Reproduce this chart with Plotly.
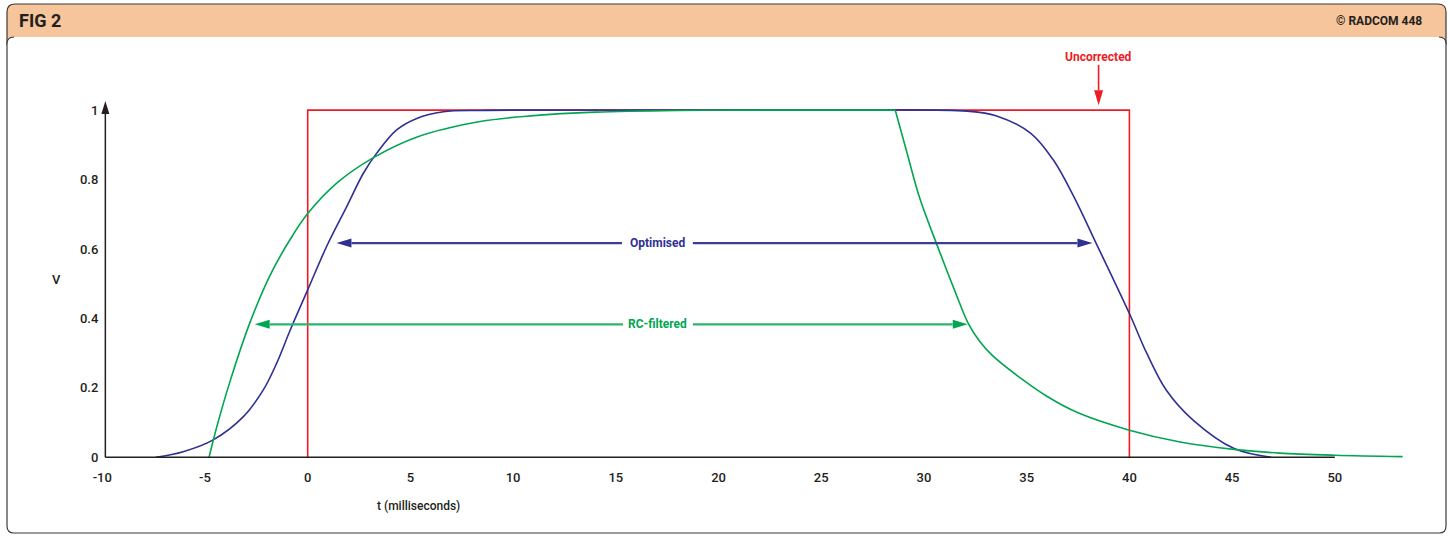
import plotly.graph_objects as go

# ---------------------------------------------------------------- data
# Uncorrected (ideal rectangular) pulse
uncorr_t = [0, 0, 40, 40]
uncorr_v = [0, 1, 1, 0]

# Optimised pulse shaping
opt_t = [-7.4, -6.06, -4.6, -3.13, -2.16, -1.51, -0.86, 0.0, 0.92, 1.9, 2.71,
         3.36, 4.33, 5.31, 6.6, 8.4, 11.0, 16.0, 21.0, 26.0, 32.1, 33.5,
         35.2, 36.3, 37.3, 38.4, 40.0, 40.85, 41.8, 43.1, 45.1, 46.9]
opt_v = [0.0, 0.016, 0.05, 0.117, 0.194, 0.271, 0.365, 0.482, 0.607, 0.722,
         0.818, 0.876, 0.943, 0.976, 0.995, 0.999, 1.0, 1.0, 1.0, 1.0, 0.997,
         0.984, 0.933, 0.856, 0.75, 0.614, 0.414, 0.299, 0.193, 0.107, 0.025,
         0.0]

# RC-filtered pulse: rising edge and decaying edge
rc_rise_t = [-4.8, -4.45, -3.8, -2.83, -1.85, -0.88, 0.0, 1.4, 3.2, 5.3, 8.4,
             11.0, 14.0, 18.0, 22.0, 28.6]
rc_rise_v = [0.0, 0.082, 0.215, 0.385, 0.522, 0.625, 0.702, 0.789, 0.863,
             0.922, 0.967, 0.984, 0.994, 0.999, 1.0, 1.0]
rc_fall_t = [28.6, 29.16, 29.8, 30.62, 31.43, 32.16, 32.7, 33.3, 34.84, 36.0,
             37.5, 40.0, 42.47, 45.2, 47.3, 50.0, 53.3]
rc_fall_v = [1.0, 0.88, 0.745, 0.614, 0.49, 0.385, 0.335, 0.295, 0.222, 0.175,
             0.128, 0.078, 0.044, 0.022, 0.012, 0.006, 0.002]

# axis ticks
x_ticks = [-10, -5, 0, 5, 10, 15, 20, 25, 30, 35, 40, 45, 50]
x_tick_text = ["-10", "-5", "0", "5", "10", "15", "20", "25", "30", "35",
               "40", "45", "50"]
y_ticks = [0, 0.2, 0.4, 0.6, 0.8, 1]
y_tick_text = ["0", "0.2", "0.4", "0.6", "0.8", "1"]

# labelled width arrows: (label, level, left tip, gap start, gap end, right tip)
opt_arrow = ("Optimised", 0.617, 1.4, 15.3, 18.75, 38.2)
rc_arrow = ("RC-filtered", 0.383, -2.58, 15.35, 18.75, 32.13)
uncorr_arrow = ("Uncorrected", 38.5, 1.014, 1.13)   # label, t, tip, tail

# ---------------------------------------------------------------- layout
W, H = 1450, 536
ML, MR, MT, MB = 92, 33, 58, 44
X_RANGE = [-10.5, 54]
Y_RANGE = [-0.1, 1.15]
Y_AXIS_AT = -9.85
PW = W - ML - MR
PH = H - MT - MB
XS = PW / (X_RANGE[1] - X_RANGE[0])   # px per ms
YS = PH / (Y_RANGE[1] - Y_RANGE[0])   # px per volt

FONT = "Roboto, Liberation Sans, Arial, sans-serif"
INK = "#231F20"
RED = "#ED1C24"
BLUE = "#2E3192"
BLUE_ARROW = "#3B3E99"
GREEN = "#00A651"
GREEN_ARROW = "#2DB56E"
PEACH = "#F6C59B"
FRAME = "#3A3A3A"
SMOOTH = 1.0


def pp(px, py):
    """pixel position -> paper coordinates string"""
    return f"{(px - ML) / PW:.5f},{(H - MB - py) / PH:.5f}"


def ppx(px):
    return (px - ML) / PW


def ppy(py):
    return (H - MB - py) / PH


shapes = []

# header band with rounded top corners
L, R, T, B = 7, 1446, 4, 45
r = 8
shapes.append(dict(
    type="path", xref="paper", yref="paper", layer="below",
    path=(f"M{pp(L, B)} L{pp(L, T + r)} Q{pp(L, T)} {pp(L + r, T)} "
          f"L{pp(R - r, T)} Q{pp(R, T)} {pp(R, T + r)} L{pp(R, B)} Z"),
    fillcolor=PEACH, line=dict(width=0)))
shapes.append(dict(
    type="path", xref="paper", yref="paper", layer="below",
    path=(f"M{pp(L, B)} L{pp(L, T + r)} Q{pp(L, T)} {pp(L + r, T)} "
          f"L{pp(R - r, T)} Q{pp(R, T)} {pp(R, T + r)} L{pp(R, B)}"),
    fillcolor="rgba(0,0,0,0)", line=dict(color=FRAME, width=1.2)))

# white panel
PT, PB = 37, 533
r = 7
panel = (f"M{pp(L + r, PT)} L{pp(R - r, PT)} Q{pp(R, PT)} {pp(R, PT + r)} "
         f"L{pp(R, PB - r)} Q{pp(R, PB)} {pp(R - r, PB)} L{pp(L + r, PB)} "
         f"Q{pp(L, PB)} {pp(L, PB - r)} L{pp(L, PT + r)} Q{pp(L, PT)} {pp(L + r, PT)}")
shapes.append(dict(type="path", xref="paper", yref="paper", layer="below",
                   path=panel + " Z", fillcolor="white", line=dict(width=0)))
shapes.append(dict(
    type="path", xref="paper", yref="paper", layer="below",
    path=(f"M{pp(R - r, PT)} Q{pp(R, PT)} {pp(R, PT + r)} "
          f"L{pp(R, PB - r)} Q{pp(R, PB)} {pp(R - r, PB)} L{pp(L + r, PB)} "
          f"Q{pp(L, PB)} {pp(L, PB - r)} L{pp(L, PT + r)} Q{pp(L, PT)} {pp(L + r, PT)}"),
    fillcolor="rgba(0,0,0,0)", line=dict(color=FRAME, width=1.2)))


def head(tip_x, tip_y, dx, dy, length, half, color):
    """filled triangular arrowhead in data space; (dx, dy) is a pixel direction"""
    bx = tip_x - dx * length / XS
    by = tip_y - dy * length / YS
    px_, py_ = -dy, dx
    p1 = (bx + px_ * half / XS, by + py_ * half / YS)
    p2 = (bx - px_ * half / XS, by - py_ * half / YS)
    shapes.append(dict(
        type="path", xref="x", yref="y", layer="above",
        path=f"M{tip_x},{tip_y} L{p1[0]},{p1[1]} L{p2[0]},{p2[1]} Z",
        fillcolor=color, line=dict(width=0)))
    return bx, by


def hline(x0, x1, y, color, width):
    shapes.append(dict(type="line", xref="x", yref="y", layer="above",
                       x0=x0, x1=x1, y0=y, y1=y,
                       line=dict(color=color, width=width)))


# axes drawn as lines, y axis with an arrow tip
shapes.append(dict(type="line", xref="x", yref="y", layer="above",
                   x0=Y_AXIS_AT, x1=50, y0=0, y1=0,
                   line=dict(color=INK, width=1.5)))
bx, by = head(Y_AXIS_AT, 1.026, 0, 1, 13, 4, INK)
shapes.append(dict(type="line", xref="x", yref="y", layer="above",
                   x0=Y_AXIS_AT, x1=Y_AXIS_AT, y0=0, y1=by + 0.005,
                   line=dict(color=INK, width=1.5)))

annotations = []


def width_arrow(spec, line_color, head_color, text_color):
    label, lvl, left, g0, g1, right = spec
    bl, _ = head(left, lvl, -1, 0, 15, 4.5, head_color)
    br, _ = head(right, lvl, 1, 0, 15, 4.5, head_color)
    hline(bl, g0, lvl, line_color, 2.2)
    hline(g1, br, lvl, line_color, 2.2)
    annotations.append(dict(x=(g0 + g1) / 2, y=lvl, xref="x", yref="y",
                            xanchor="center", yanchor="middle",
                            text=f"<b>{label}</b>", showarrow=False,
                            font=dict(family=FONT, size=12, color=text_color)))


width_arrow(opt_arrow, BLUE_ARROW, BLUE, BLUE)
width_arrow(rc_arrow, GREEN_ARROW, GREEN, GREEN)

# uncorrected pointer
label, ut, utip, utail = uncorr_arrow
_, ub = head(ut, utip, 0, -1, 15, 4.5, RED)
shapes.append(dict(type="line", xref="x", yref="y", layer="above",
                   x0=ut, x1=ut, y0=ub, y1=utail,
                   line=dict(color=RED, width=1.6)))
annotations.append(dict(x=ut, y=utail, xref="x", yref="y",
                        xanchor="center", yanchor="bottom",
                        text=f"<b>{label}</b>", showarrow=False, yshift=-1,
                        font=dict(family=FONT, size=12, color=RED)))

# header texts and axis titles
annotations += [
    dict(x=ppx(17), y=ppy(20.5), xref="paper", yref="paper",
         xanchor="left", yanchor="middle",
         text="<b>FIG 2</b>", showarrow=False,
         font=dict(family=FONT, size=18, color=INK)),
    dict(x=ppx(1424), y=ppy(21), xref="paper", yref="paper",
         xanchor="right", yanchor="middle",
         text="<b>© RADCOM 448</b>", showarrow=False,
         font=dict(family=FONT, size=12, color=INK)),
    dict(x=ppx(56), y=ppy(279), xref="paper", yref="paper",
         xanchor="center", yanchor="middle",
         text="V", showarrow=False,
         font=dict(family=FONT, size=13, color=INK, weight=500)),
    dict(x=ppx(418), y=ppy(506), xref="paper", yref="paper",
         xanchor="center", yanchor="middle",
         text="t (milliseconds)", showarrow=False,
         font=dict(family=FONT, size=12, color=INK, weight=500)),
]

fig = go.Figure()
fig.add_trace(go.Scatter(x=uncorr_t, y=uncorr_v, mode="lines",
                         line=dict(color=RED, width=1.6), hoverinfo="skip"))
fig.add_trace(go.Scatter(x=opt_t, y=opt_v, mode="lines",
                         line=dict(color=BLUE, width=1.6, shape="spline",
                                   smoothing=SMOOTH), hoverinfo="skip"))
fig.add_trace(go.Scatter(x=rc_rise_t, y=rc_rise_v, mode="lines",
                         line=dict(color=GREEN, width=1.6, shape="spline",
                                   smoothing=SMOOTH), hoverinfo="skip"))
fig.add_trace(go.Scatter(x=rc_fall_t, y=rc_fall_v, mode="lines",
                         line=dict(color=GREEN, width=1.6, shape="spline",
                                   smoothing=SMOOTH), hoverinfo="skip"))

tick_font = dict(family=FONT, size=13, color=INK, weight=500)
fig.update_layout(
    width=W, height=H,
    margin=dict(l=ML, r=MR, t=MT, b=MB, pad=0),
    paper_bgcolor="white", plot_bgcolor="rgba(0,0,0,0)",
    showlegend=False, hovermode=False,
    shapes=shapes, annotations=annotations,
    xaxis=dict(range=X_RANGE, showgrid=False, zeroline=False, showline=False,
               tickmode="array", tickvals=x_ticks, ticktext=x_tick_text,
               ticks="", anchor="free",
               position=(0 - Y_RANGE[0]) / (Y_RANGE[1] - Y_RANGE[0]),
               ticklabelstandoff=11, tickfont=tick_font, fixedrange=True),
    yaxis=dict(range=Y_RANGE, showgrid=False, zeroline=False, showline=False,
               tickmode="array", tickvals=y_ticks, ticktext=y_tick_text,
               ticks="", anchor="free",
               position=(Y_AXIS_AT - X_RANGE[0]) / (X_RANGE[1] - X_RANGE[0]),
               ticklabelstandoff=7, tickfont=tick_font, fixedrange=True),
)

fig.write_html("out.html")
